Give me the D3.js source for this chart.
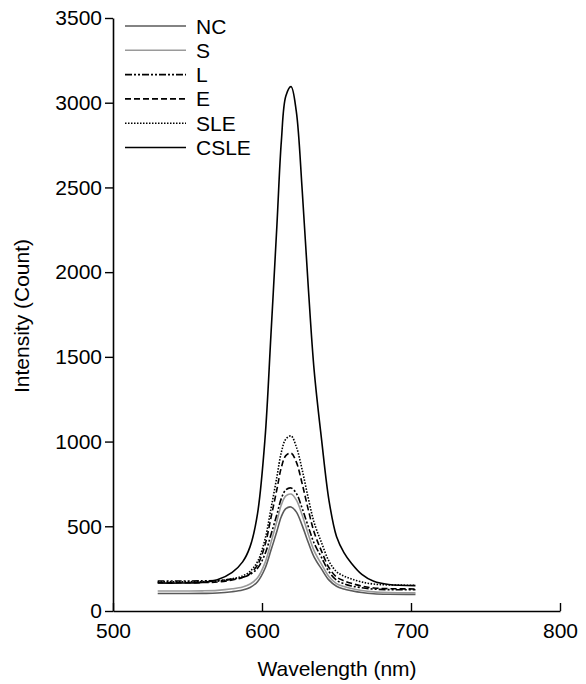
<!doctype html>
<html>
<head>
  <script src="https://d3js.org/d3.v7.min.js"></script>
  <style>
    body { margin: 0; background: #fff; }
    text { font-family: "Liberation Sans", Arial, sans-serif; }
  </style>
</head>
<body>
  <svg width="586" height="684"></svg>
  <script>
    // wavelength grid (nm)
    var wavelengths = [530, 545, 560, 570, 580, 587, 592, 597, 602, 606, 610, 613, 616, 619.5, 623, 627, 631, 635, 640, 645, 650, 655, 660, 667, 675, 685, 703]

    var nc   = [103, 103, 104, 106, 114, 124, 139, 173, 251, 358, 471, 558, 604, 614, 585, 504, 406, 318, 247, 182, 146, 130, 120, 109, 102, 99, 98]
    var s    = [118, 118, 119, 122, 131, 142, 159, 196, 284, 404, 530, 627, 679, 690, 656, 565, 455, 355, 275, 202, 162, 144, 133, 121, 113, 109, 108]
    var l    = [177, 177, 178, 180, 188, 199, 216, 252, 336, 450, 570, 665, 715, 726, 695, 605, 500, 400, 315, 232, 182, 161, 148, 137, 129, 126, 125]
    var e    = [167, 167, 168, 171, 183, 198, 221, 272, 389, 550, 718, 848, 917, 932, 880, 750, 600, 465, 352, 255, 201, 178, 163, 147, 136, 132, 130]
    var sle  = [172, 172, 173, 176, 190, 207, 234, 291, 422, 603, 792, 938, 1015, 1033, 970, 832, 668, 522, 402, 293, 232, 206, 189, 171, 159, 154, 152]
    var csle = [165, 165, 169, 184, 228, 290, 380, 575, 1015, 1630, 2275, 2775, 3040, 3095, 2950, 2480, 1920, 1420, 1010, 650, 440, 345, 282, 216, 175, 156, 150]

    var names = ["NC", "S", "L", "E", "SLE", "CSLE"]
    var xTicks = [500, 600, 700, 800]
    var yTicks = [0, 500, 1000, 1500, 2000, 2500, 3000, 3500]

    var series = [
      {name: "NC", values: nc, color: "#5a5a5a", dash: null},
      {name: "S", values: s, color: "#9a9a9a", dash: null},
      {name: "L", values: l, color: "#000000", dash: "7,2,2,2,2,2"},
      {name: "E", values: e, color: "#000000", dash: "6,3"},
      {name: "SLE", values: sle, color: "#000000", dash: "1.5,1.5"},
      {name: "CSLE", values: csle, color: "#000000", dash: null}
    ]

    var svg = d3.select("svg")
    var fs = "21px"

    var x = d3.scaleLinear().domain([500, 800]).range([113, 560])
    var y = d3.scaleLinear().domain([0, 3500]).range([611, 18])

    var line = d3.line()
      .x(function(d) { return x(d[0]) })
      .y(function(d) { return y(d[1]) })
      .curve(d3.curveCatmullRom.alpha(0.5))

    series.forEach(function(sr) {
      var pts = wavelengths.map(function(w, i) { return [w, sr.values[i]] })
      svg.append("path")
        .attr("d", line(pts))
        .attr("fill", "none")
        .attr("stroke", sr.color)
        .attr("stroke-width", 1.6)
        .attr("stroke-dasharray", sr.dash)
    })

    // axes
    var xAxis = svg.append("g")
      .attr("transform", "translate(0,611)")
      .call(d3.axisBottom(x).tickValues(xTicks).tickFormat(d3.format("d"))
        .tickSize(-8).tickPadding(12).tickSizeOuter(0))
    xAxis.select(".domain").attr("stroke-width", 1.6)
    xAxis.selectAll(".tick line").attr("stroke-width", 1.4)
    xAxis.selectAll("text").attr("font-size", fs).attr("fill", "#000")

    var yAxis = svg.append("g")
      .attr("transform", "translate(113,0)")
      .call(d3.axisLeft(y).tickValues(yTicks).tickFormat(d3.format("d"))
        .tickSize(8).tickPadding(3).tickSizeOuter(0))
    yAxis.select(".domain").attr("stroke-width", 1.6)
    yAxis.selectAll(".tick line").attr("stroke-width", 1.4)
    yAxis.selectAll("text").attr("font-size", fs).attr("fill", "#000")

    svg.append("text")
      .attr("x", 337)
      .attr("y", 676)
      .attr("text-anchor", "middle")
      .attr("font-size", fs)
      .text("Wavelength (nm)")

    svg.append("text")
      .attr("transform", "translate(29,316) rotate(-90)")
      .attr("text-anchor", "middle")
      .attr("font-size", fs)
      .text("Intensity (Count)")

    // legend
    var legend = svg.append("g")
    series.forEach(function(sr, i) {
      var ly = 26 + i * 24.3
      legend.append("line")
        .attr("x1", 125).attr("x2", 186)
        .attr("y1", ly).attr("y2", ly)
        .attr("stroke", sr.color)
        .attr("stroke-width", 1.6)
        .attr("stroke-dasharray", sr.dash)
      legend.append("text")
        .attr("x", 196)
        .attr("y", ly)
        .attr("dy", "0.36em")
        .attr("font-size", fs)
        .text(names[i])
    })
  </script>
</body>
</html>
